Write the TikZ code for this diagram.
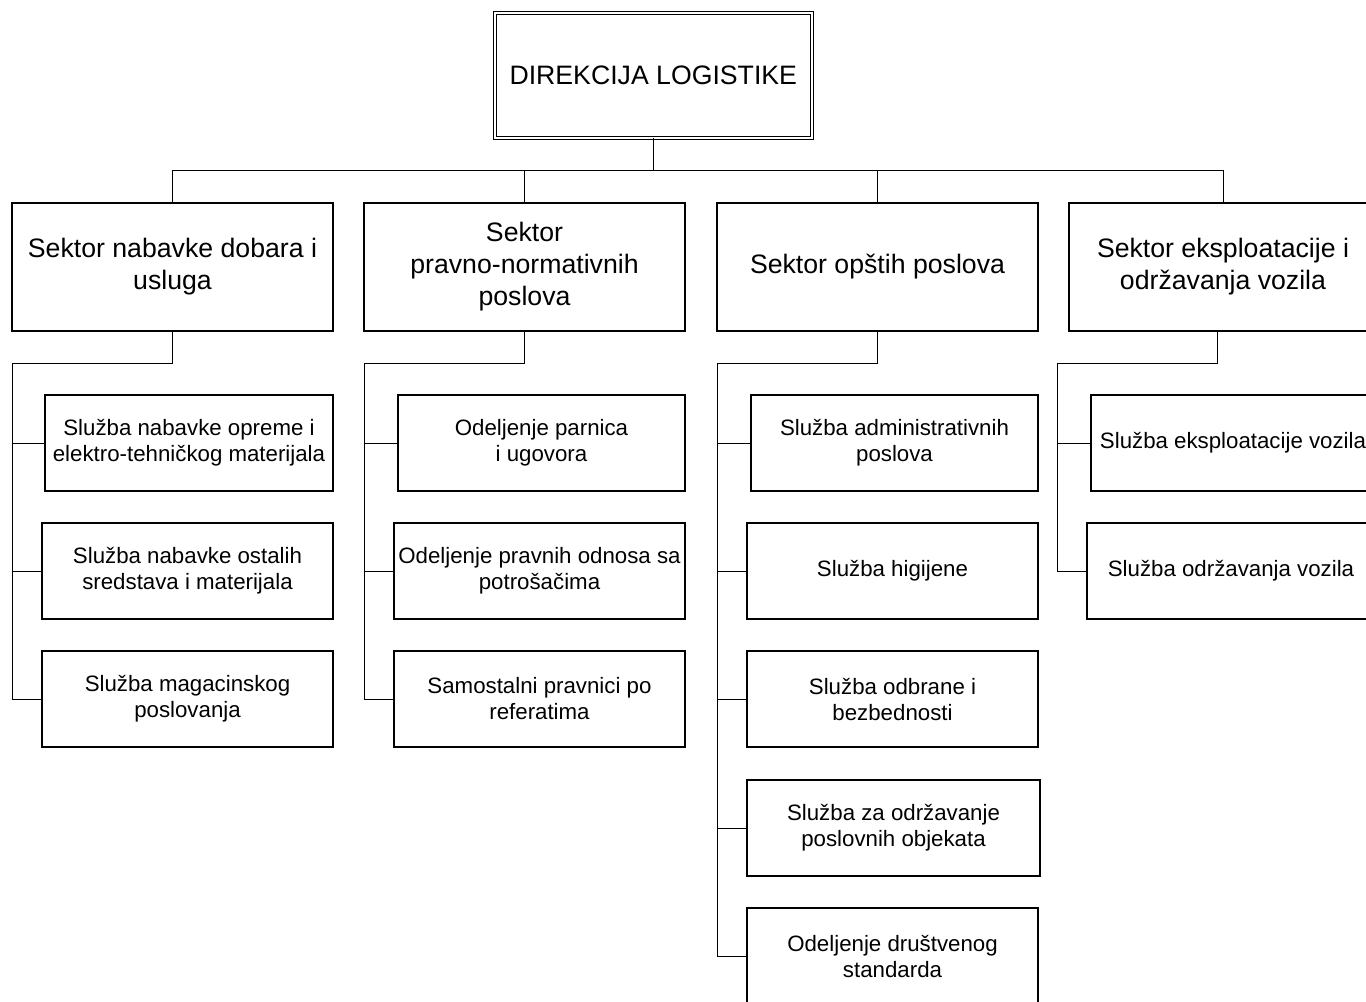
\documentclass[tikz,border=0pt]{standalone}
\usepackage{fontspec}
\setmainfont{Liberation Sans}
% box given by its corner points (in px units of the picture)
\newcommand\orgbox[7]{%
  \pgfmathsetmacro\cx{(#3+#5)/2}\pgfmathsetmacro\cy{(#4+#6)/2}%
  \pgfmathsetmacro\bw{(#5-#3)*0.75}\pgfmathsetmacro\bh{(#6-#4)*0.75}%
  \node[#1, minimum width=\bw pt, minimum height=\bh pt] (#2) at (\cx,\cy) {#7};}
\begin{document}
\begin{tikzpicture}[x=0.75pt,y=-0.75pt,
  head/.style={draw, double, line width=0.75pt, double distance=1.5pt,
    inner sep=0pt, align=center, font=\fontsize{20}{24}\selectfont},
  sector/.style={draw, line width=1.5pt, inner sep=0pt, align=center,
    font=\fontsize{20}{24}\selectfont},
  unit/.style={draw, line width=1.5pt, inner sep=0pt, align=center,
    font=\fontsize{16.7}{19.5}\selectfont},
  link/.style={line width=0.75pt}]
\useasboundingbox (0,0) rectangle (1366,1001);
\fill[white] (0,0) rectangle (1366,1001);
\clip (0,0) rectangle (1366,1001);

% head of the directorate
\orgbox{head}{top}{494.5}{12.5}{812}{137.5}{DIREKCIJA LOGISTIKE}

% sectors
\orgbox{sector}{s1}{12}{203}{333}{331}{Sektor nabavke dobara i\\usluga}
\orgbox{sector}{s2}{364}{203}{685}{331}{Sektor\\pravno-normativnih\\poslova}
\orgbox{sector}{s3}{717}{203}{1038}{331}{Sektor opštih poslova}
\orgbox{sector}{s4}{1069}{203}{1377}{331}{Sektor eksploatacije i\\održavanja vozila}

% sector 1 units
\orgbox{unit}{u11}{45}{395}{333}{491}{Služba nabavke opreme i\\elektro-tehničkog materijala}
\orgbox{unit}{u12}{42}{523}{333}{619}{Služba nabavke ostalih\\sredstava i materijala}
\orgbox{unit}{u13}{42}{651}{333}{747}{Služba magacinskog\\poslovanja}

% sector 2 units
\orgbox{unit}{u21}{398}{395}{685}{491}{Odeljenje parnica\\i ugovora}
\orgbox{unit}{u22}{394}{523}{685}{619}{Odeljenje pravnih odnosa sa\\potrošačima}
\orgbox{unit}{u23}{394}{651}{685}{747}{Samostalni pravnici po\\referatima}

% sector 3 units
\orgbox{unit}{u31}{751}{395}{1038}{491}{Služba administrativnih\\poslova}
\orgbox{unit}{u32}{747}{523}{1038}{619}{Služba higijene}
\orgbox{unit}{u33}{747}{651}{1038}{747}{Služba odbrane i\\bezbednosti}
\orgbox{unit}{u34}{747}{780}{1040}{876}{Služba za održavanje\\poslovnih objekata}
\orgbox{unit}{u35}{747}{908}{1038}{1004}{Odeljenje društvenog\\standarda}

% sector 4 units
\orgbox{unit}{u41}{1091}{395}{1375}{491}{Služba eksploatacije vozila}
\orgbox{unit}{u42}{1087}{523}{1375}{619}{Služba održavanja vozila}

% top-level bus
\coordinate (bus) at (653,170);
\foreach \s in {s1,s2,s3,s4}
  \draw[link] (top.south) -- (top.south |- bus) -| (\s.north);

% unit buses
\coordinate (b1) at (12,363);
\coordinate (b2) at (364,363);
\coordinate (b3) at (717,363);
\coordinate (b4) at (1057,363);
\coordinate (d4) at ([xshift=-4.5pt]s4.south);

\draw[link] (s1.south) -- (s1.south |- b1) -| (b1 |- u13.west) -- (u13.west);
\foreach \u in {u11,u12}
  \draw[link] (b1 |- \u.west) -- (\u.west);

\draw[link] (s2.south) -- (s2.south |- b2) -| (b2 |- u23.west) -- (u23.west);
\foreach \u in {u21,u22}
  \draw[link] (b2 |- \u.west) -- (\u.west);

\draw[link] (s3.south) -- (s3.south |- b3) -| (b3 |- u35.west) -- (u35.west);
\foreach \u in {u31,u32,u33,u34}
  \draw[link] (b3 |- \u.west) -- (\u.west);

\draw[link] (d4) -- (d4 |- b4) -| (b4 |- u42.west) -- (u42.west);
\draw[link] (b4 |- u41.west) -- (u41.west);
\end{tikzpicture}
\end{document}
